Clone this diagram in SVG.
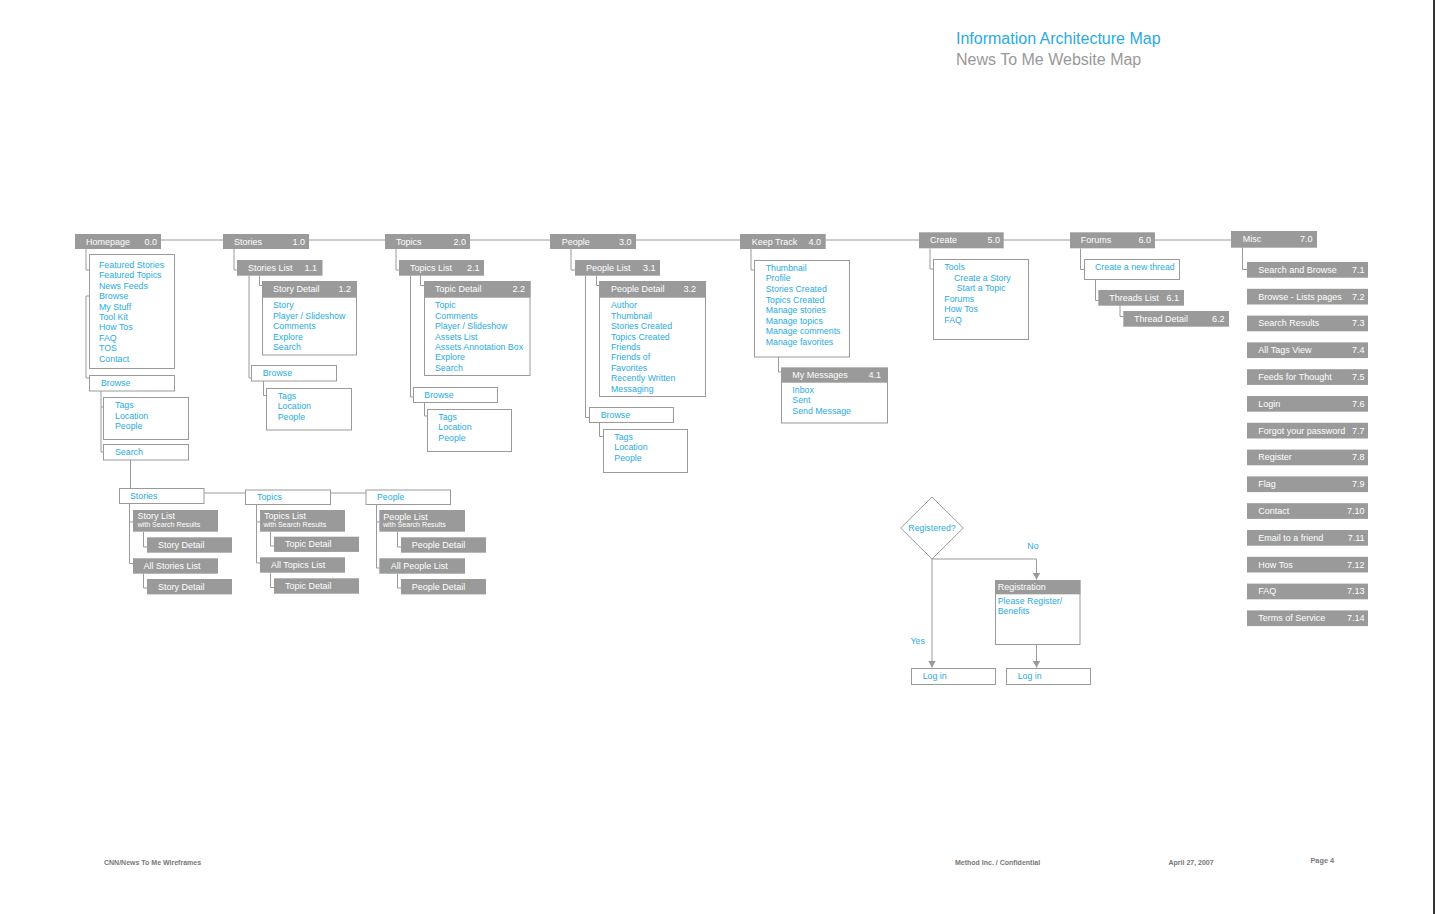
<svg xmlns="http://www.w3.org/2000/svg" width="1435" height="914" viewBox="0 0 1435 914">
<defs>
<style>
text{font-family:"Liberation Sans",Arial,Helvetica,sans-serif;font-size:9px}
.h{fill:#9a9a9a}
.b{fill:#fff;stroke:#9a9a9a;stroke-width:1}
.c{fill:none;stroke:#9a9a9a;stroke-width:1}
.w{fill:#fff}
.n{fill:#fff;text-anchor:end}
.t{fill:#29abe2;font-size:8.8px}
.s{fill:#fff;font-size:7.1px}
.f{fill:#777;font-size:7px;font-weight:bold}
</style>
<marker id="ar" markerUnits="userSpaceOnUse" markerWidth="7" markerHeight="8" refX="7" refY="4" orient="auto">
<path d="M0,0 L7,4 L0,8 z" fill="#9a9a9a"/>
</marker>
</defs>
<rect x="0" y="0" width="1435" height="914" fill="#fff"/>
<rect x="1433" y="0" width="2" height="914" fill="#333"/>

<g id="title">
<text x="956" y="44" style="font-size:16px;fill:#29abe2">Information Architecture Map</text>
<text x="956" y="64.5" style="font-size:16px;fill:#999">News To Me Website Map</text>
</g>

<g id="connectors">
<path class="c" d="M161,240 H223 M309,240 H385 M470,240 H550 M636,240 H740 M825.5,240 H919 M1003.5,240 H1070 M1155,240 H1231"/>
<path class="c" d="M86,249 V270 H89 M89,296 H86 V378 H89 M101,391 V452 H103 M101,407 H103 M130.5,460 V488"/>
<path class="c" d="M204,493 H245 M330,493 H366"/>
<path class="c" d="M129.5,503.5 V563.5 H133 M129.5,522 H133 M143.5,532 V547 H147 M143.5,573.5 V588 H147"/>
<path class="c" d="M256.5,504.5 V563 H260 M256.5,522 H260 M270.5,531.5 V546 H274 M270.5,572.5 V587.5 H274"/>
<path class="c" d="M376.5,504.5 V568 H379.5 M376.5,522 H379.5 M397.5,531.5 V547 H401 M397.5,573.5 V588 H401"/>
<path class="c" d="M234,249 V270 H237 M259.5,275.5 V285.5 H262.5 M249,275.5 V378 H251.5 M263.5,381 V395.5 H266.5"/>
<path class="c" d="M396,249 V270 H399 M420.5,275.5 V285.5 H424.5 M410.5,275.5 V397 H413.5 M424.5,402 V416 H427.5"/>
<path class="c" d="M571,249 V270 H575 M596.5,275.5 V285.5 H599 M585.5,275.5 V417.5 H589 M599.5,422.5 V436.5 H603.5"/>
<path class="c" d="M751,249 V270 H754.5 M778.5,357 V372 H781"/>
<path class="c" d="M930,248.5 V269 H933.5"/>
<path class="c" d="M1080.5,248.5 V269.5 H1084.5 M1095.5,279.5 V300.5 H1098.5 M1120,305.5 V316.5 H1123.5"/>
<path class="c" d="M1242.5,247.5 V269.5 H1247"/>
<path class="c" d="M932,559 H1036.5 V579.5" marker-end="url(#ar)"/>
<path class="c" d="M932,559 V667.5" marker-end="url(#ar)"/>
<path class="c" d="M1036.5,644.5 V667.5" marker-end="url(#ar)"/>
</g>

<g id="homepage">
<rect class="h" x="75" y="234" width="86" height="15"/>
<text class="w" x="86" y="244.5">Homepage</text><text class="n" x="157" y="244.5">0.0</text>
</g>
<g id="homepage-links">
<rect class="b" x="89.5" y="254.5" width="85" height="114"/>
<text class="t" x="99" y="268">Featured Stories</text>
<text class="t" x="99" y="278.4">Featured Topics</text>
<text class="t" x="99" y="288.8">News Feeds</text>
<text class="t" x="99" y="299.2">Browse</text>
<text class="t" x="99" y="309.6">My Stuff</text>
<text class="t" x="99" y="320">Tool Kit</text>
<text class="t" x="99" y="330.4">How Tos</text>
<text class="t" x="99" y="340.8">FAQ</text>
<text class="t" x="99" y="351.2">TOS</text>
<text class="t" x="99" y="361.6">Contact</text>
</g>
<g id="homepage-browse">
<rect class="b" x="89.5" y="375.5" width="85" height="15.5"/>
<text class="t" x="101" y="386">Browse</text>
</g>
<g id="homepage-browse-tags">
<rect class="b" x="103.5" y="397.5" width="85" height="42"/>
<text class="t" x="115" y="408.3">Tags</text>
<text class="t" x="115" y="418.7">Location</text>
<text class="t" x="115" y="429.1">People</text>
</g>
<g id="homepage-search">
<rect class="b" x="103.5" y="444.5" width="85" height="15.5"/>
<text class="t" x="115" y="455">Search</text>
</g>

<g id="search-stories">
<rect class="b" x="119.5" y="488.5" width="84.5" height="15"/>
<text class="t" x="130" y="498.5">Stories</text>
</g>
<g id="search-story-list">
<rect class="h" x="133" y="510" width="85" height="21.7"/>
<text class="w" x="137.5" y="519">Story List</text>
<text class="s" x="137.5" y="527.3">with Search Results</text>
</g>
<g id="search-story-detail-1">
<rect class="h" x="147" y="537.3" width="85" height="15.4"/>
<text class="w" x="158" y="548">Story Detail</text>
</g>
<g id="search-all-stories">
<rect class="h" x="133" y="558.3" width="85" height="15.4"/>
<text class="w" x="143.5" y="569">All Stories List</text>
</g>
<g id="search-story-detail-2">
<rect class="h" x="147" y="579" width="85" height="15.4"/>
<text class="w" x="158" y="590">Story Detail</text>
</g>

<g id="search-topics">
<rect class="b" x="245.5" y="490" width="85" height="14.5"/>
<text class="t" x="257" y="500.3">Topics</text>
</g>
<g id="search-topics-list">
<rect class="h" x="260" y="510" width="85" height="21.7"/>
<text class="w" x="264" y="519">Topics List</text>
<text class="s" x="263.5" y="527.3">with Search Results</text>
</g>
<g id="search-topic-detail-1">
<rect class="h" x="274" y="536.7" width="85" height="15.2"/>
<text class="w" x="285" y="547.3">Topic Detail</text>
</g>
<g id="search-all-topics">
<rect class="h" x="260" y="557.3" width="85" height="15.4"/>
<text class="w" x="271" y="568">All Topics List</text>
</g>
<g id="search-topic-detail-2">
<rect class="h" x="274" y="578.3" width="85" height="15.4"/>
<text class="w" x="285" y="589">Topic Detail</text>
</g>

<g id="search-people">
<rect class="b" x="366" y="490" width="84.5" height="14.5"/>
<text class="t" x="377" y="500.3">People</text>
</g>
<g id="search-people-list">
<rect class="h" x="379.3" y="510" width="85.7" height="21.7"/>
<text class="w" x="383.3" y="519.5">People List</text>
<text class="s" x="383" y="527.3">with Search Results</text>
</g>
<g id="search-people-detail-1">
<rect class="h" x="401" y="537.3" width="85" height="15.4"/>
<text class="w" x="411.7" y="548">People Detail</text>
</g>
<g id="search-all-people">
<rect class="h" x="379.3" y="558.3" width="85.7" height="15.4"/>
<text class="w" x="390.7" y="569">All People List</text>
</g>
<g id="search-people-detail-2">
<rect class="h" x="401" y="579" width="85" height="15.4"/>
<text class="w" x="411.7" y="590">People Detail</text>
</g>

<g id="stories">
<rect class="h" x="223" y="234" width="86" height="15"/>
<text class="w" x="234" y="244.5">Stories</text><text class="n" x="305" y="244.5">1.0</text>
</g>
<g id="stories-list">
<rect class="h" x="237" y="260" width="85.5" height="15.7"/>
<text class="w" x="248" y="270.7">Stories List</text><text class="n" x="317" y="270.7">1.1</text>
</g>
<g id="story-detail">
<rect class="b" x="262.5" y="281.5" width="94" height="73.5"/>
<rect class="h" x="262" y="281" width="95" height="16.7"/>
<text class="w" x="273" y="291.8">Story Detail</text><text class="n" x="351" y="291.8">1.2</text>
<text class="t" x="273" y="308.3">Story</text>
<text class="t" x="273" y="318.7">Player / Slideshow</text>
<text class="t" x="273" y="329.1">Comments</text>
<text class="t" x="273" y="339.5">Explore</text>
<text class="t" x="273" y="349.9">Search</text>
</g>
<g id="stories-browse">
<rect class="b" x="251.5" y="365.5" width="85" height="15.5"/>
<text class="t" x="262.7" y="376.3">Browse</text>
</g>
<g id="stories-browse-tags">
<rect class="b" x="266.5" y="388.5" width="85" height="41.5"/>
<text class="t" x="277.7" y="399">Tags</text>
<text class="t" x="277.7" y="409.4">Location</text>
<text class="t" x="277.7" y="419.8">People</text>
</g>

<g id="topics">
<rect class="h" x="385" y="234" width="85" height="15"/>
<text class="w" x="396" y="244.5">Topics</text><text class="n" x="466" y="244.5">2.0</text>
</g>
<g id="topics-list">
<rect class="h" x="399" y="260" width="85" height="15.7"/>
<text class="w" x="410" y="270.7">Topics List</text><text class="n" x="479.5" y="270.7">2.1</text>
</g>
<g id="topic-detail">
<rect class="b" x="424.5" y="281.5" width="105.5" height="94"/>
<rect class="h" x="424" y="281" width="106.5" height="16.7"/>
<text class="w" x="435" y="291.8">Topic Detail</text><text class="n" x="525" y="291.8">2.2</text>
<text class="t" x="435" y="308.3">Topic</text>
<text class="t" x="435" y="318.7">Comments</text>
<text class="t" x="435" y="329.1">Player / Slideshow</text>
<text class="t" x="435" y="339.5">Assets List</text>
<text class="t" x="435" y="349.9">Assets Annotation Box</text>
<text class="t" x="435" y="360.3">Explore</text>
<text class="t" x="435" y="370.7">Search</text>
</g>
<g id="topics-browse">
<rect class="b" x="413.5" y="387.5" width="84" height="15"/>
<text class="t" x="424.3" y="398">Browse</text>
</g>
<g id="topics-browse-tags">
<rect class="b" x="427.5" y="409.5" width="84" height="42"/>
<text class="t" x="438.3" y="420">Tags</text>
<text class="t" x="438.3" y="430.4">Location</text>
<text class="t" x="438.3" y="440.8">People</text>
</g>

<g id="people">
<rect class="h" x="550" y="234" width="86" height="15"/>
<text class="w" x="561.7" y="244.5">People</text><text class="n" x="631.5" y="244.5">3.0</text>
</g>
<g id="people-list">
<rect class="h" x="575" y="260" width="85" height="15.7"/>
<text class="w" x="586" y="270.7">People List</text><text class="n" x="655.5" y="270.7">3.1</text>
</g>
<g id="people-detail">
<rect class="b" x="599.5" y="281.5" width="106" height="115"/>
<rect class="h" x="599" y="281" width="107" height="16.7"/>
<text class="w" x="611" y="291.8">People Detail</text><text class="n" x="696" y="291.8">3.2</text>
<text class="t" x="611" y="308.3">Author</text>
<text class="t" x="611" y="318.7">Thumbnail</text>
<text class="t" x="611" y="329.1">Stories Created</text>
<text class="t" x="611" y="339.5">Topics Created</text>
<text class="t" x="611" y="349.9">Friends</text>
<text class="t" x="611" y="360.3">Friends of</text>
<text class="t" x="611" y="370.7">Favorites</text>
<text class="t" x="611" y="381.1">Recently Written</text>
<text class="t" x="611" y="391.5">Messaging</text>
</g>
<g id="people-browse">
<rect class="b" x="589.5" y="407.5" width="84" height="15"/>
<text class="t" x="600.7" y="418">Browse</text>
</g>
<g id="people-browse-tags">
<rect class="b" x="603.5" y="429.5" width="84" height="43"/>
<text class="t" x="614.3" y="440">Tags</text>
<text class="t" x="614.3" y="450.4">Location</text>
<text class="t" x="614.3" y="460.8">People</text>
</g>

<g id="keep-track">
<rect class="h" x="740" y="234" width="85.7" height="15"/>
<text class="w" x="751.7" y="244.5">Keep Track</text><text class="n" x="821" y="244.5">4.0</text>
</g>
<g id="keep-track-links">
<rect class="b" x="754.5" y="260.5" width="95" height="96.5"/>
<text class="t" x="765.7" y="270.7">Thumbnail</text>
<text class="t" x="765.7" y="281.3">Profile</text>
<text class="t" x="765.7" y="291.9">Stories Created</text>
<text class="t" x="765.7" y="302.5">Topics Created</text>
<text class="t" x="765.7" y="313.1">Manage stories</text>
<text class="t" x="765.7" y="323.7">Manage topics</text>
<text class="t" x="765.7" y="334.3">Manage comments</text>
<text class="t" x="765.7" y="344.9">Manage favorites</text>
</g>
<g id="my-messages">
<rect class="b" x="781.5" y="368" width="106" height="55"/>
<rect class="h" x="781" y="367.7" width="107" height="15"/>
<text class="w" x="792.3" y="378.2">My Messages</text><text class="n" x="881" y="378.2">4.1</text>
<text class="t" x="792.3" y="392.7">Inbox</text>
<text class="t" x="792.3" y="403.3">Sent</text>
<text class="t" x="792.3" y="413.9">Send Message</text>
</g>

<g id="create">
<rect class="h" x="919" y="232.3" width="84.7" height="16"/>
<text class="w" x="930" y="243">Create</text><text class="n" x="1000" y="243">5.0</text>
</g>
<g id="create-links">
<rect class="b" x="933.5" y="259.5" width="95" height="80"/>
<text class="t" x="944.3" y="270">Tools</text>
<text class="t" x="954" y="280.6">Create a Story</text>
<text class="t" x="956.7" y="291">Start a Topic</text>
<text class="t" x="944.3" y="301.6">Forums</text>
<text class="t" x="944.3" y="312">How Tos</text>
<text class="t" x="944.3" y="322.6">FAQ</text>
</g>

<g id="forums">
<rect class="h" x="1070" y="232.3" width="85" height="16"/>
<text class="w" x="1080.7" y="243">Forums</text><text class="n" x="1151" y="243">6.0</text>
</g>
<g id="create-new-thread">
<rect class="b" x="1084.5" y="259.5" width="95" height="20"/>
<text class="t" x="1095" y="270.3">Create a new thread</text>
</g>
<g id="threads-list">
<rect class="h" x="1098.3" y="290" width="85.7" height="15.7"/>
<text class="w" x="1109.3" y="300.7">Threads List</text><text class="n" x="1179" y="300.7">6.1</text>
</g>
<g id="thread-detail">
<rect class="h" x="1123.3" y="311" width="105.7" height="15.7"/>
<text class="w" x="1134" y="321.7">Thread Detail</text><text class="n" x="1224.5" y="321.7">6.2</text>
</g>

<g id="misc">
<rect class="h" x="1231" y="231" width="86" height="16.7"/>
<text class="w" x="1242.7" y="242.2">Misc</text><text class="n" x="1312.5" y="242.2">7.0</text>
</g>
<g id="misc-7-1"><rect class="h" x="1247" y="262" width="121" height="15.7"/><text class="w" x="1258.3" y="272.8">Search and Browse</text><text class="n" x="1364.5" y="272.8">7.1</text></g>
<g id="misc-7-2"><rect class="h" x="1247" y="288.8" width="121" height="15.7"/><text class="w" x="1258.3" y="299.6">Browse - Lists pages</text><text class="n" x="1364.5" y="299.6">7.2</text></g>
<g id="misc-7-3"><rect class="h" x="1247" y="315.6" width="121" height="15.7"/><text class="w" x="1258.3" y="326.4">Search Results</text><text class="n" x="1364.5" y="326.4">7.3</text></g>
<g id="misc-7-4"><rect class="h" x="1247" y="342.4" width="121" height="15.7"/><text class="w" x="1258.3" y="353.2">All Tags View</text><text class="n" x="1364.5" y="353.2">7.4</text></g>
<g id="misc-7-5"><rect class="h" x="1247" y="369.2" width="121" height="15.7"/><text class="w" x="1258.3" y="380">Feeds for Thought</text><text class="n" x="1364.5" y="380">7.5</text></g>
<g id="misc-7-6"><rect class="h" x="1247" y="396" width="121" height="15.7"/><text class="w" x="1258.3" y="406.8">Login</text><text class="n" x="1364.5" y="406.8">7.6</text></g>
<g id="misc-7-7"><rect class="h" x="1247" y="422.8" width="121" height="15.7"/><text class="w" x="1258.3" y="433.6">Forgot your password</text><text class="n" x="1364.5" y="433.6">7.7</text></g>
<g id="misc-7-8"><rect class="h" x="1247" y="449.6" width="121" height="15.7"/><text class="w" x="1258.3" y="460.4">Register</text><text class="n" x="1364.5" y="460.4">7.8</text></g>
<g id="misc-7-9"><rect class="h" x="1247" y="476.4" width="121" height="15.7"/><text class="w" x="1258.3" y="487.2">Flag</text><text class="n" x="1364.5" y="487.2">7.9</text></g>
<g id="misc-7-10"><rect class="h" x="1247" y="503.2" width="121" height="15.7"/><text class="w" x="1258.3" y="514">Contact</text><text class="n" x="1364.5" y="514">7.10</text></g>
<g id="misc-7-11"><rect class="h" x="1247" y="530" width="121" height="15.7"/><text class="w" x="1258.3" y="540.8">Email to a friend</text><text class="n" x="1364.5" y="540.8">7.11</text></g>
<g id="misc-7-12"><rect class="h" x="1247" y="556.8" width="121" height="15.7"/><text class="w" x="1258.3" y="567.6">How Tos</text><text class="n" x="1364.5" y="567.6">7.12</text></g>
<g id="misc-7-13"><rect class="h" x="1247" y="583.6" width="121" height="15.7"/><text class="w" x="1258.3" y="594.4">FAQ</text><text class="n" x="1364.5" y="594.4">7.13</text></g>
<g id="misc-7-14"><rect class="h" x="1247" y="610.4" width="121" height="15.7"/><text class="w" x="1258.3" y="621.2">Terms of Service</text><text class="n" x="1364.5" y="621.2">7.14</text></g>

<g id="registered-decision">
<polygon class="b" points="932,497 963.3,528 932,559 900.7,528"/>
<text class="t" x="932" y="530.5" text-anchor="middle">Registered?</text>
</g>
<g id="flow-labels">
<text class="t" x="1027.3" y="548.5">No</text>
<text class="t" x="910.5" y="644">Yes</text>
</g>
<g id="registration">
<rect class="b" x="995.5" y="580.5" width="84.5" height="64"/>
<rect class="h" x="995.3" y="580" width="85" height="14.3"/>
<text class="w" x="997.7" y="590">Registration</text>
<text class="t" x="997.7" y="603.6">Please Register/</text>
<text class="t" x="997.7" y="614">Benefits</text>
</g>
<g id="login-yes">
<rect class="b" x="911.5" y="668.5" width="84" height="16"/>
<text class="t" x="922.7" y="679.2">Log in</text>
</g>
<g id="login-no">
<rect class="b" x="1006.5" y="668.5" width="84" height="16"/>
<text class="t" x="1017.7" y="679.2">Log in</text>
</g>

<g id="footer">
<text class="f" x="104" y="865">CNN/News To Me Wireframes</text>
<text class="f" x="955" y="865">Method Inc. / Confidential</text>
<text class="f" x="1168.5" y="865">April 27, 2007</text>
<text class="f" x="1310.5" y="862.5" style="font-size:7.3px">Page 4</text>
</g>
</svg>
